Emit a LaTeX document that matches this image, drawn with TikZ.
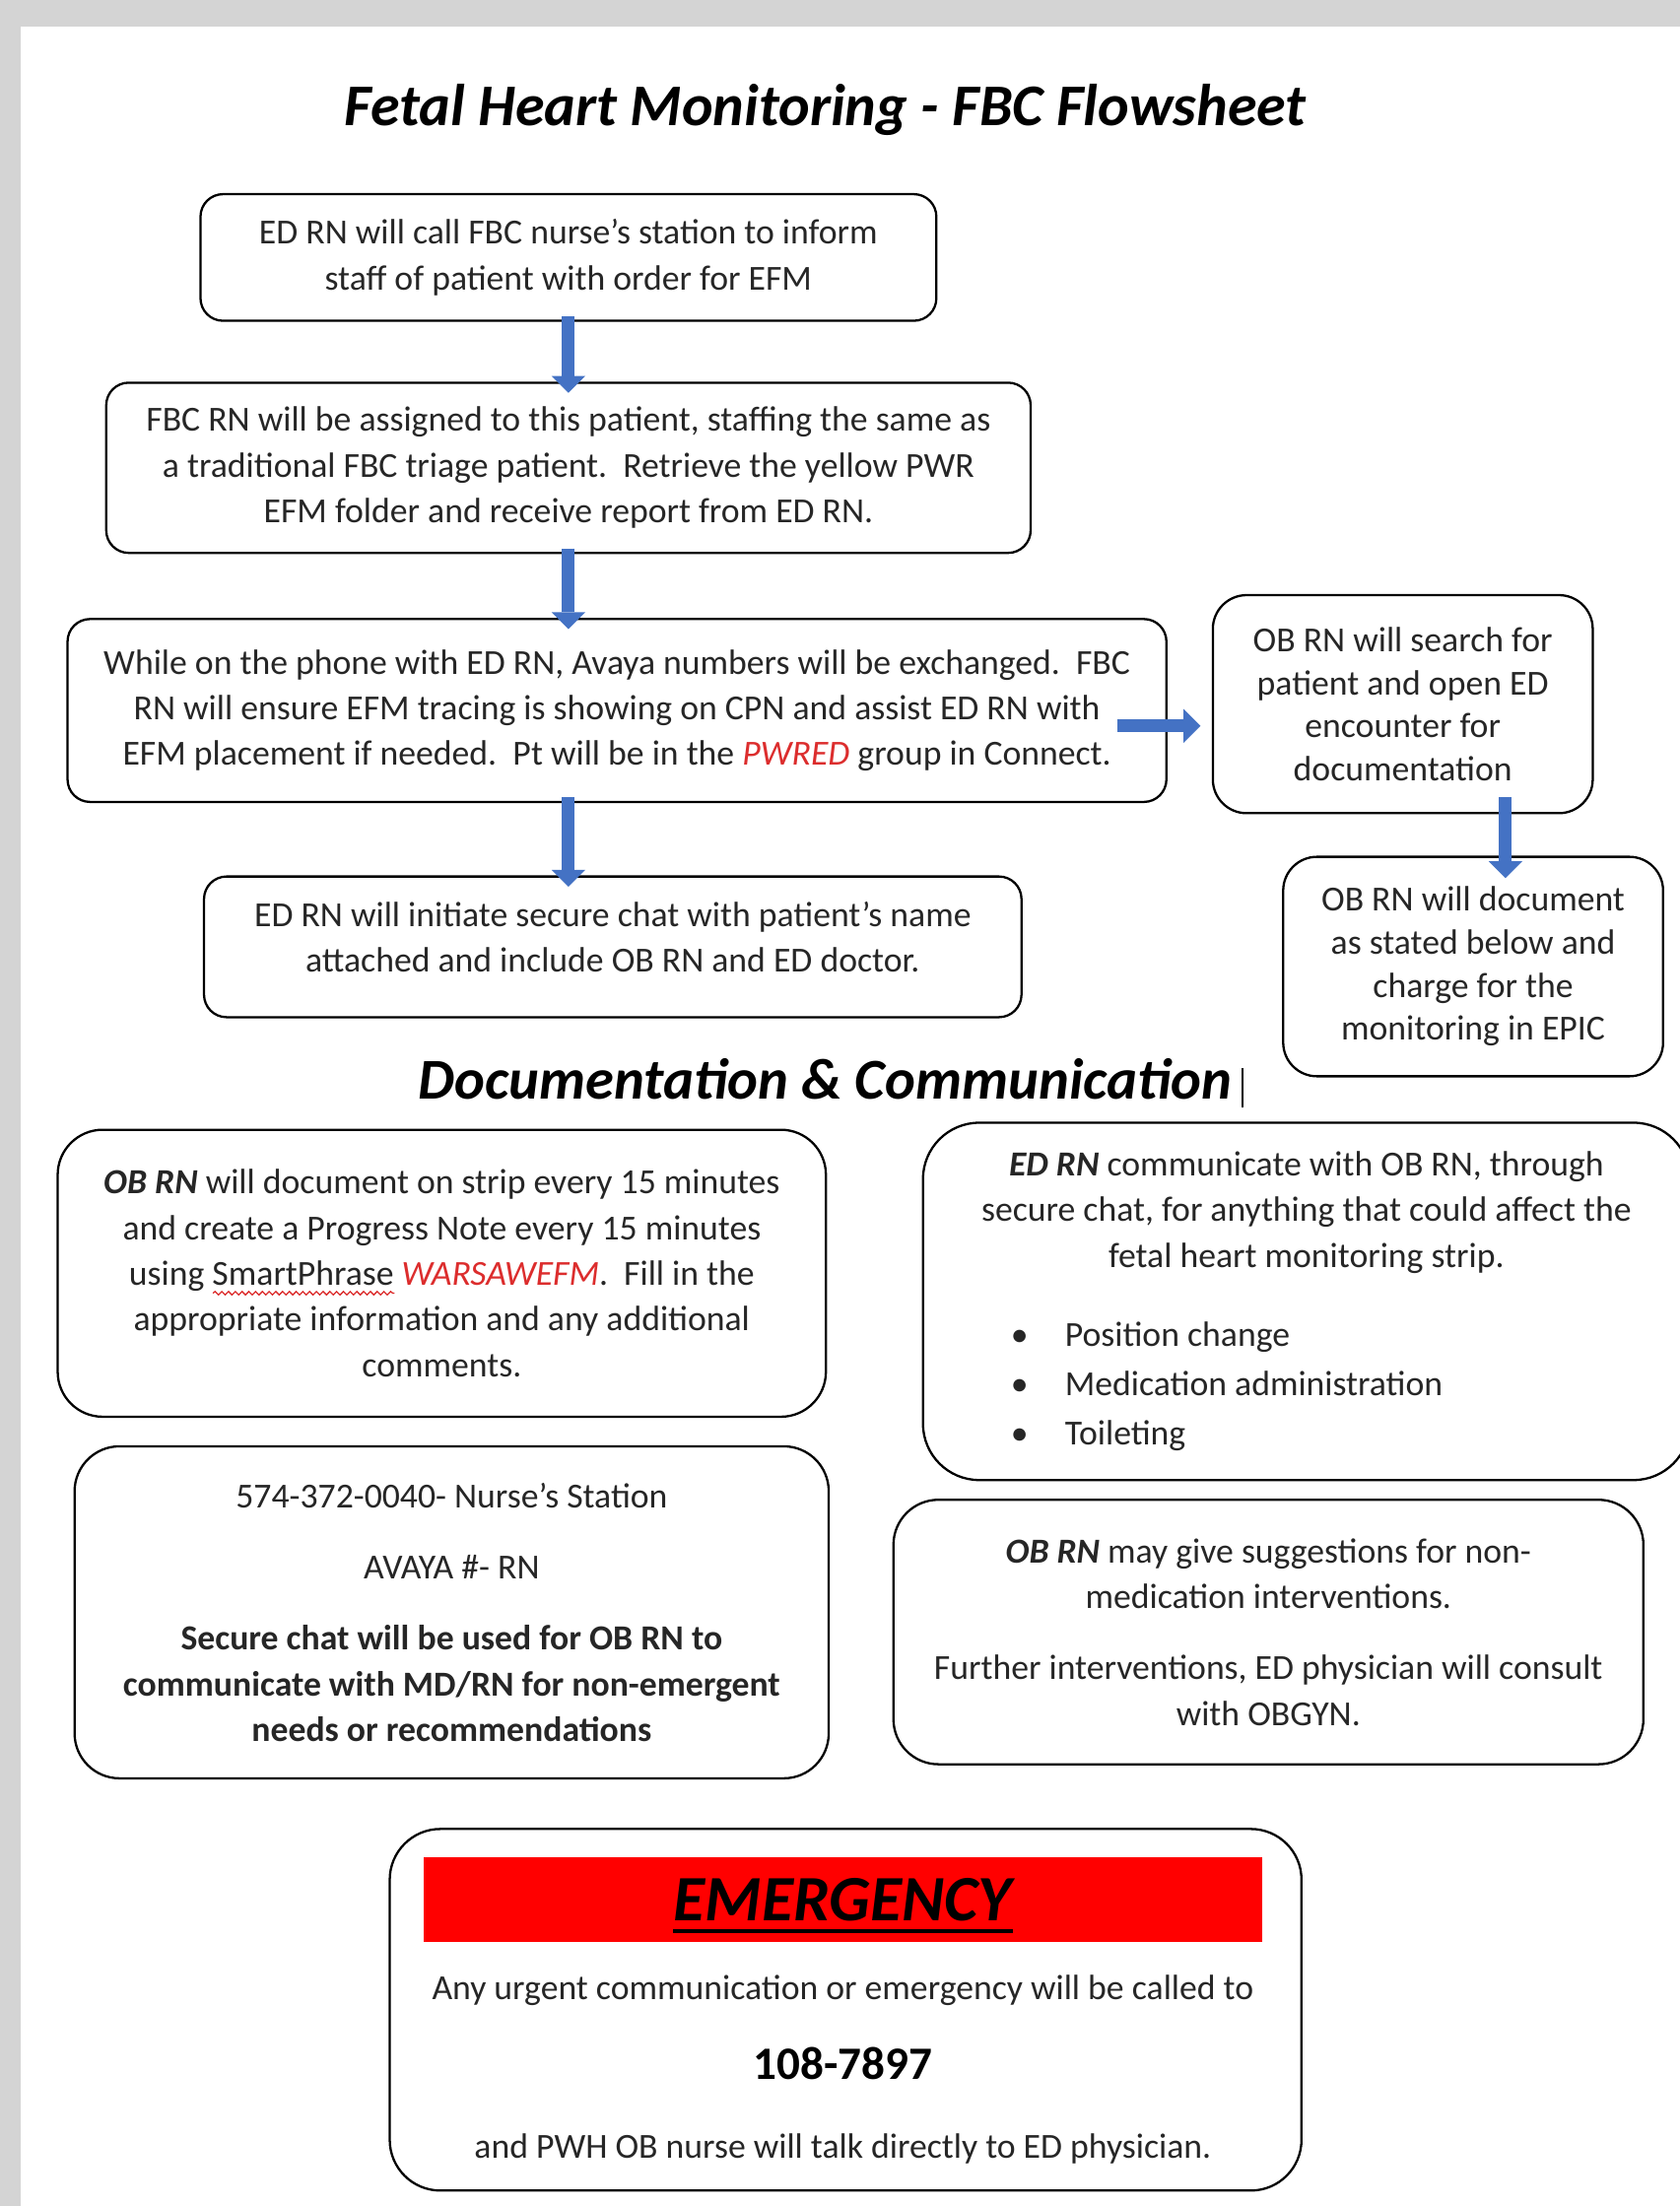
\documentclass[tikz,border=0pt]{standalone}
\usepackage{fontspec}
\setmainfont{Carlito}
\usetikzlibrary{arrows.meta,decorations.pathmorphing}

\definecolor{flowblue}{RGB}{68,114,196}
\definecolor{pagegray}{RGB}{212,212,212}
\definecolor{inkgray}{RGB}{38,38,38}
\definecolor{notered}{RGB}{220,45,45}
\definecolor{bandred}{RGB}{255,0,0}

\newsavebox{\wavebox}
\newcommand{\wavyword}[1]{\sbox{\wavebox}{#1}\rlap{\tikz[baseline=0pt,x=1pt,y=1pt,sharp corners]\draw[notered,line width=0.45pt,sharp corners,decorate,decoration={snake,amplitude=0.6pt,segment length=2.4pt}] (0,-2.8) -- (\the\wd\wavebox,-2.8);}\usebox{\wavebox}}

\tikzset{
  plaintext/.style={text=inkgray, inner sep=0pt, font=\fontsize{12.5}{16.25}\selectfont},
  stepbox/.style={plaintext, draw=black, line width=0.8pt, rounded corners=8pt, align=center},
  sidebox/.style={stepbox, rounded corners=12pt, font=\fontsize{12.5}{15.25}\selectfont},
  notebox/.style={stepbox, rounded corners=16pt},
  flowarrow/.style={draw=flowblue, line width=4.5pt, -{Triangle[width=12pt,length=6pt,line width=0pt]}},
}

\begin{document}
\begin{tikzpicture}[x=0.5pt, y=-0.5pt]
\useasboundingbox (0,0) rectangle (1194,1568);
\fill[pagegray] (0,0) rectangle (1194,1568);
\fill[white] (15,19) rectangle (1194,1568);

\node[anchor=base, font=\fontsize{21}{25}\selectfont\bfseries\itshape] (title) at (586.5,89) {Fetal Heart Monitoring - FBC Flowsheet};

% flow
\node[stepbox, minimum width=261.5pt, minimum height=45pt] (callfbc) at (404,183)
  {ED RN will call FBC nurse’s station to inform\\ staff of patient with order for EFM};
\node[stepbox, minimum width=328.5pt, minimum height=60.5pt] (assign) at (404,332.5)
  {FBC RN will be assigned to this patient, staffing the same as\\ a traditional FBC triage patient.\ \ Retrieve the yellow PWR\\ EFM folder and receive report from ED RN.};
\node[stepbox, minimum width=390.5pt, minimum height=65pt] (phone) at (438.5,505)
  {While on the phone with ED RN, Avaya numbers will be exchanged.\ \ FBC\\ RN will ensure EFM tracing is showing on CPN and assist ED RN with\\ EFM placement if needed.\ \ Pt will be in the \textcolor{notered}{\textit{PWRED}} group in Connect.};
\node[stepbox, minimum width=290.5pt, minimum height=50pt] (chat) at (435.5,673)
  {ED RN will initiate secure chat with patient’s name\\ attached and include OB RN and ED doctor.\rule[-7pt]{0pt}{1pt}};
\node[sidebox, minimum width=135pt, minimum height=77.5pt] (search) at (997,500.5)
  {OB RN will search for\\ patient and open ED\\ encounter for\\ documentation};
\node[sidebox, minimum width=135pt, minimum height=78pt] (charge) at (1047,687)
  {OB RN will document\\ as stated below and\\ charge for the\\ monitoring in EPIC};

\draw[flowarrow] ([yshift=2pt]callfbc.south) -- ([yshift=-4pt]assign.north);
\draw[flowarrow] ([yshift=2pt]assign.south) -- ([xshift=-17.25pt,yshift=-4pt]phone.north);
\draw[flowarrow] ([xshift=-17.25pt,yshift=2pt]phone.south) -- ([xshift=-15.75pt,yshift=-4pt]chat.north);
\draw[flowarrow] ([xshift=-18pt,yshift=-5.5pt]phone.east) -- ([xshift=-4pt,yshift=-7.75pt]search.west);
\draw[flowarrow] ([xshift=36.5pt,yshift=6pt]search.south) -- ([xshift=11.5pt,yshift=-8pt]charge.north);

\node[anchor=base, font=\fontsize{20.5}{24}\selectfont\bfseries\itshape] (dochead) at (586.5,781)
  {Documentation \& Communication\rlap{\hspace{3.5pt}\rule[-3pt]{0.5pt}{14pt}}};

% documentation
\node[notebox, minimum width=273pt, minimum height=102pt] (strip) at (314,905)
  {\textbf{\textit{OB RN}} will document on strip every 15 minutes\\ and create a Progress Note every 15 minutes\\ using \wavyword{SmartPhrase} \textcolor{notered}{\textit{WARSAWEFM}}.\ \ Fill in the\\ appropriate information and any additional\\ comments.};
\node[notebox, rounded corners=20pt, minimum width=272.5pt, minimum height=127pt] (edcomm) at (928.5,925)
  {\textbf{\textit{ED RN}} communicate with OB RN, through\\ secure chat, for anything that could affect the\\ fetal heart monitoring strip.\\[12pt]
   \makebox[220pt][l]{\hspace{5pt}\textbullet\hspace{13pt}Position change}\\[1pt]
   \makebox[220pt][l]{\hspace{5pt}\textbullet\hspace{13pt}Medication administration}\\[1.5pt]
   \makebox[220pt][l]{\hspace{5pt}\textbullet\hspace{13pt}Toileting}};
\node[notebox, minimum width=268pt, minimum height=118pt] (numbers) at (321,1146)
  {574-372-0040- Nurse’s Station\\[9pt] AVAYA \#- RN\\[9pt] \textbf{Secure chat will be used for OB RN to}\\ \textbf{communicate with MD/RN for non-emergent}\\ \textbf{needs or recommendations}};
\node[notebox, minimum width=266.5pt, minimum height=94pt] (suggest) at (901.5,1160)
  {\textbf{\textit{OB RN}} may give suggestions for non-\\ medication interventions.\\[9pt] Further interventions, ED physician will consult\\ with OBGYN.};

% emergency
\node[notebox, rounded corners=18pt, minimum width=324pt, minimum height=128.5pt] (emerg) at (601,1428.5) {};
\node[fill=bandred, minimum width=298pt, minimum height=30pt, inner sep=0pt] (band) at (599,1350) {};
\node[anchor=base, inner sep=0pt, font=\fontsize{23}{27}\selectfont\bfseries\itshape] (emword) at (599,1365) {EMERGENCY};
\draw[line width=1.3pt] ([yshift=-3.8pt]emword.base west) -- ([yshift=-3.8pt]emword.base east);
\node[plaintext, anchor=base] (urgent) at (599,1421) {Any urgent communication or emergency will be called to};
\node[plaintext, anchor=base, text=black, font=\fontsize{16.5}{20}\selectfont\bfseries] (emnum) at (599,1478) {108-7897};
\node[plaintext, anchor=base] (pwh) at (599,1534) {and PWH OB nurse will talk directly to ED physician.};
\end{tikzpicture}
\end{document}
